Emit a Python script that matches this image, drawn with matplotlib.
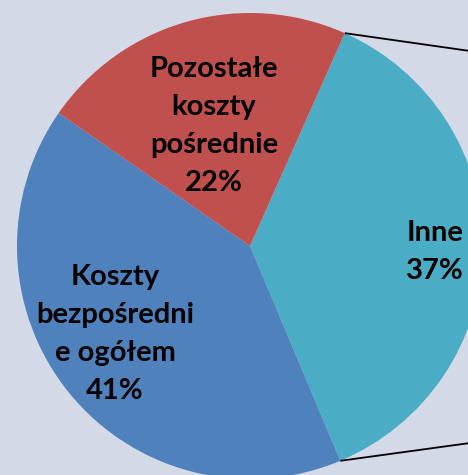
import numpy as np
import matplotlib

matplotlib.use("Agg")
import matplotlib.pyplot as plt

# data
labels = ["Inne", "Koszty\nbezpośredni\ne ogółem", "Pozostałe\nkoszty\npośrednie"]
shares = [37, 41, 22]
colors = ["#4BACC6", "#4F81BD", "#C0504D"]

BG = "#D3D9E6"
W, H = 468, 475
CENTER = (250, H - 246)
RADIUS = 233
START = 66.0

fig = plt.figure(figsize=(W / 100, H / 100), dpi=100, facecolor=BG)
ax = fig.add_axes([0, 0, 1, 1])
ax.set_facecolor(BG)

ax.pie(
    shares,
    colors=colors,
    startangle=START,
    counterclock=False,
    center=CENTER,
    radius=RADIUS,
    frame=True,
    wedgeprops={"linewidth": 0},
)
ax.set_xlim(0, W)
ax.set_ylim(0, H)
ax.set_aspect("equal")
ax.axis("off")

# connector lines to the (cropped) secondary pie
a0 = np.deg2rad(START)
a1 = np.deg2rad(START - shares[0] / 100 * 360)
p0 = (CENTER[0] + RADIUS * np.cos(a0), CENTER[1] + RADIUS * np.sin(a0))
p1 = (CENTER[0] + RADIUS * np.cos(a1), CENTER[1] + RADIUS * np.sin(a1))
ax.plot([p0[0], 470], [p0[1], H - 51], color="black", lw=1.3, solid_capstyle="butt")
ax.plot([p1[0], 470], [p1[1], H - 443], color="black", lw=1.3, solid_capstyle="butt")

label_pos = [(435, H - 252), (115, H - 334), (214, H - 126)]
for lab, val, (x, y) in zip(labels, shares, label_pos):
    ax.text(x, y, f"{lab}\n{val}%", ha="center", va="center", multialignment="center",
            fontsize=21, fontweight="bold", family=["Lato", "DejaVu Sans"],
            linespacing=1.56, color="black")

fig.savefig("out.png", dpi=100, facecolor=BG)
